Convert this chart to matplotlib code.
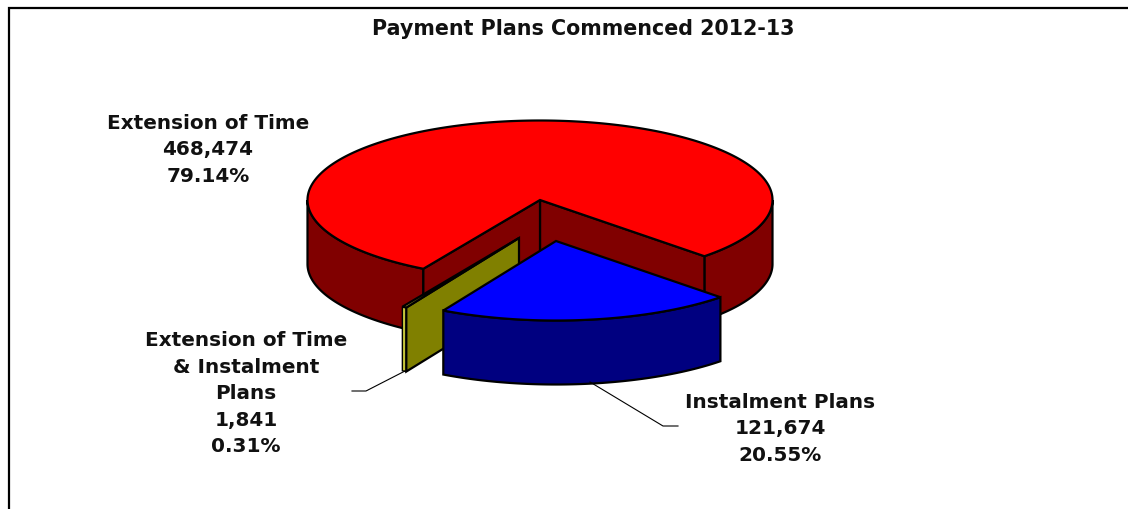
import numpy as np
import matplotlib
matplotlib.use("Agg")
import matplotlib.pyplot as plt
from matplotlib.patches import Polygon

title = "Payment Plans Commenced 2012-13"
categories = ["Extension of Time", "Instalment Plans", "Extension of Time\n& Instalment\nPlans"]
values = [468474, 121674, 1841]

top_colors = ["#FF0000", "#0000FF", "#C4C43C"]
side_colors = ["#800000", "#000080", "#808000"]

W, H = 1128, 510
fig = plt.figure(figsize=(W / 100, H / 100), dpi=100)
ax = fig.add_axes([0, 0, 1, 1])
ax.set_xlim(0, W)
ax.set_ylim(H, 0)
ax.axis("off")

# Pie projection: ellipse radii, wall height and slice displacement
RX, RY, DEPTH = 232.5, 79.5, 64
CX, CY = 540, 201
OFFSETS = [(0, 0), (16, 41), (-21, 38)]
START = -45.0  # screen angle where the instalment slice begins, running clockwise

shares = np.array(values) / sum(values)
sweeps = shares * 360
blue_end = START - sweeps[1]
olive_end = blue_end - sweeps[2]


def rim(cx, cy, a0, a1, n=160):
    t = np.radians(np.linspace(a0, a1, n))
    return np.c_[cx + RX * np.cos(t), cy - RY * np.sin(t)]


def poly(points, face, lw=1.6):
    ax.add_patch(Polygon(points, closed=True, facecolor=face, edgecolor="black",
                         linewidth=lw, joinstyle="miter"))


down = np.array([0, DEPTH])
centre = np.array([CX, CY])

# Large slice: walls first, then the top face
red_right = rim(CX, CY, START, START, 1)[0]
red_left = rim(CX, CY, olive_end, olive_end, 1)[0]
wall = rim(CX, CY, START, 0)
poly(np.r_[wall, wall[::-1] + down], side_colors[0])
wall = rim(CX, CY, -180, olive_end)
poly(np.r_[wall, wall[::-1] + down], side_colors[0])
poly([centre, red_right, red_right + down, centre + down], side_colors[0])
poly([centre, red_left, red_left + down, centre + down], side_colors[0])
poly(np.r_[[centre], rim(CX, CY, olive_end, START - 360, 400)], top_colors[0])

# Thin slice: seen almost edge on
apex = centre + OFFSETS[2]
o_near, o_far = rim(apex[0], apex[1], blue_end, olive_end, 2)
poly([o_far, o_near, o_near + down, o_far + down], top_colors[2], lw=1.0)
poly([apex, o_near, o_near + down, apex + down], side_colors[2])
poly([apex, o_near, o_far], top_colors[2])

# Pulled-out slice
apex = centre + OFFSETS[1]
blue_rim = rim(apex[0], apex[1], START, blue_end)
poly(np.r_[blue_rim, blue_rim[::-1] + down], side_colors[1])
poly(np.r_[[apex], blue_rim], top_colors[1])

# Leader lines
ax.plot([590, 663, 678], [383, 427, 427], color="black", lw=0.8)
ax.plot([405, 366, 352], [372, 392, 392], color="black", lw=0.8)

# Chart frame: left and top edges run off the canvas
ax.plot([9, 9, W], [H, 9, 9], color="black", lw=1.6, clip_on=False, solid_joinstyle="miter")

font = dict(family="DejaVu Sans", fontweight="bold", color="#111111", ha="center", va="center",
            linespacing=1.5)
ax.text(583, 29, title, fontsize=14.9, **font)


def label(i, x, y):
    ax.text(x, y, f"{categories[i]}\n{values[i]:,}\n{shares[i] * 100:.2f}%", fontsize=14.4, **font)


label(0, 208, 150)
label(1, 780, 429)
label(2, 246, 394)

fig.savefig("out.png", dpi=100)
